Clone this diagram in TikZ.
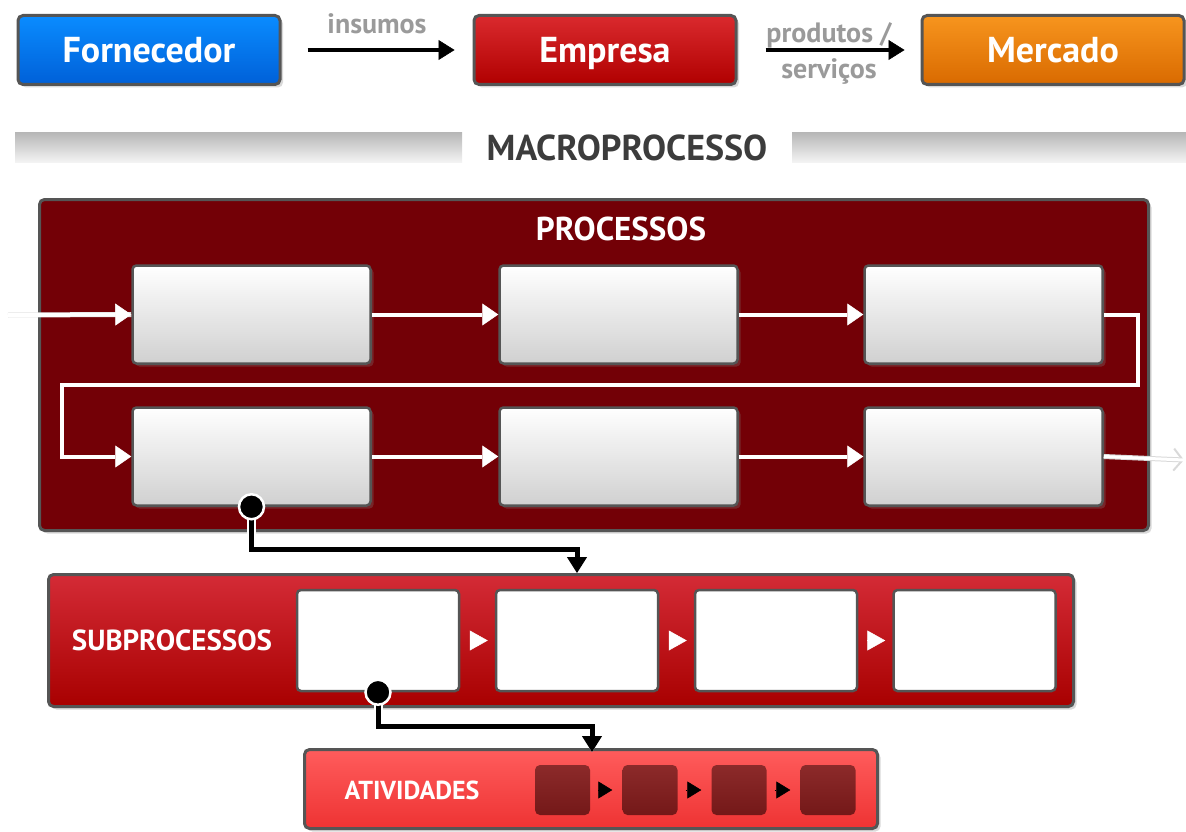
\documentclass[tikz,border=0pt]{standalone}
\usepackage{fontspec}
\setmainfont{PT Sans}
\usepackage{color}
\definecolor{myborder}{RGB}{85,85,85}
\definecolor{mybluetop}{RGB}{10,140,255}
\definecolor{mybluebot}{RGB}{0,96,216}
\definecolor{myredtop}{RGB}{218,42,46}
\definecolor{myredbot}{RGB}{176,0,0}
\definecolor{myorangetop}{RGB}{247,149,30}
\definecolor{myorangebot}{RGB}{217,106,0}
\definecolor{mywine}{RGB}{115,0,6}
\definecolor{mysubtop}{RGB}{212,43,54}
\definecolor{mysubbot}{RGB}{168,0,0}
\definecolor{myacttop}{RGB}{255,92,92}
\definecolor{myactbot}{RGB}{238,51,51}
\definecolor{mysqtop}{RGB}{140,42,42}
\definecolor{mysqbot}{RGB}{116,24,24}
\definecolor{mylightgray}{RGB}{208,208,208}
\definecolor{mybar}{RGB}{184,184,184}
\definecolor{mylabel}{RGB}{154,154,154}
\definecolor{mymacro}{RGB}{60,60,60}
\usepackage{tikz}
\usetikzlibrary{arrows.meta,shadows,positioning,calc}
\tikzstyle{myshadow}=[drop shadow={shadow xshift=3pt,shadow yshift=-3pt,opacity=.3}]
\tikzstyle{topbox}=[draw=myborder,line width=3pt,rounded corners=5pt,minimum width=262pt,minimum height=69pt,inner sep=0pt,text height=26pt,text depth=0pt,text=white,font=\bfseries\fontsize{36}{36}\selectfont,myshadow]
\tikzstyle{procbox}=[draw=myborder,line width=2.5pt,rounded corners=4pt,top color=white,bottom color=mylightgray,minimum width=238pt,minimum height=98pt,myshadow]
\tikzstyle{subbox}=[draw=myborder,line width=2.5pt,rounded corners=4pt,fill=white,minimum width=162pt,minimum height=101pt]
\tikzstyle{actbox}=[rounded corners=5pt,top color=mysqtop,bottom color=mysqbot,minimum width=55pt,minimum height=50pt]
\tikzstyle{frame}=[draw=myborder,line width=3pt,rounded corners=5pt,inner sep=0pt,myshadow]
\tikzstyle{title}=[text=white,font=\bfseries\fontsize{#1}{#1}\selectfont,inner sep=0pt]
\tikzstyle{flowlabel}=[text=mylabel,font=\bfseries\fontsize{28}{28}\selectfont,inner sep=0pt]
\tikzstyle{flow}=[black,line width=4pt,-{Triangle[width=20pt,length=16pt,line width=0.5pt]}]
\tikzstyle{wflow}=[white,line width=4pt,-{Triangle[width=22pt,length=16pt,line width=0.5pt]}]
\tikzstyle{link}=[black,line width=5pt,-{Triangle[width=20pt,length=16pt,line width=1pt]},preaction={draw=white,line width=9pt,-{Triangle[width=26pt,length=20pt,line width=1pt]}}]
\tikzstyle{dot}=[circle,fill=black,draw=white,line width=2.5pt,minimum width=25pt,minimum height=25pt,inner sep=0pt]
\tikzstyle{subtip}=[white,line width=0.5pt,-{Triangle[width=20pt,length=18pt,line width=0.5pt]},shorten <=10pt,shorten >=7pt]
\tikzstyle{acttip}=[black,line width=0.5pt,-{Triangle[width=17pt,length=14pt,line width=0.5pt]},shorten <=8pt,shorten >=10pt]

\begin{document}
\begin{tikzpicture}[x=1pt,y=-1pt]
\useasboundingbox (0,0) rectangle (1186,832);
% top row
\draw (149, 50) node [topbox, top color=mybluetop, bottom color=mybluebot] (forn) {Fornecedor};
\draw (605, 50) node [topbox, top color=myredtop, bottom color=myredbot] (emp) {Empresa};
\draw (1053, 50) node [topbox, top color=myorangetop, bottom color=myorangebot] (merc) {Mercado};
\draw[flow, shorten <=26pt, shorten >=18pt] (forn) -- (emp)
  node [flowlabel, midway, above=14pt] {insumos};
\draw[flow, shorten <=28pt, shorten >=16pt] (emp) -- (merc)
  node [flowlabel, midway, above=0pt] {produtos /}
  node [flowlabel, midway, below=7pt] {serviços};

% macroprocesso bar
\shade[top color=mybar, bottom color=white!96!black] (15,133) rectangle (462,163);
\shade[top color=mybar, bottom color=white!96!black] (792,133) rectangle (1186,163);
\draw (627, 148) node [text=mymacro, font=\bfseries\fontsize{36}{36}\selectfont, inner sep=0pt] (macro) {MACROPROCESSO};

% processos
\draw (594, 365) node [frame, fill=mywine, minimum width=1109pt, minimum height=331pt] (procs) {};
\draw (621, 229) node [title=33] (proclabel) {PROCESSOS};
\draw (251.5, 314.5) node [procbox] (p1) {};
\draw (618.5, 314.5) node [procbox] (p2) {};
\draw (983.5, 314.5) node [procbox] (p3) {};
\draw (251.5, 456.5) node [procbox] (p4) {};
\draw (618.5, 456.5) node [procbox] (p5) {};
\draw (983.5, 456.5) node [procbox] (p6) {};
\coordinate (in) at (8, 315);
\coordinate (out) at (1184, 460);
\coordinate (turnR) at (1138, 385);
\coordinate (turnL) at (62, 385);
\draw[black!12, line width=5pt] (in) -- (p1.west);
\draw[wflow] (in) -- (p1.west);
\draw[wflow] (p1) -- (p2);
\draw[wflow] (p2) -- (p3);
\draw[wflow, rounded corners=0pt] (p3.east) -| (turnR) -- (turnL) |- (p4.west);
\draw[wflow] (p4) -- (p5);
\draw[wflow] (p5) -- (p6);
\draw[black!15, line width=5pt, -{Straight Barb[width=22pt,length=9pt,line width=2pt]}] (p6.east) -- (out);
\draw[white, line width=3pt] (p6.east) -- (out);

% subprocessos
\draw (561, 640.5) node [frame, top color=mysubtop, bottom color=mysubbot, minimum width=1025pt, minimum height=132pt] (sub) {};
\draw (172, 640) node [title=29] (sublabel) {SUBPROCESSOS};
\draw (378, 640.5) node [subbox] (s1) {};
\draw (577, 640.5) node [subbox] (s2) {};
\draw (776, 640.5) node [subbox] (s3) {};
\draw (974.5, 640.5) node [subbox] (s4) {};
\draw[subtip] (s1) -- (s2);
\draw[subtip] (s2) -- (s3);
\draw[subtip] (s3) -- (s4);

% atividades
\draw (591, 789) node [frame, top color=myacttop, bottom color=myactbot, minimum width=573pt, minimum height=79pt] (act) {};
\draw (412, 790) node [title=26] (actlabel) {ATIVIDADES};
\draw (562.5, 790) node [actbox] (a1) {};
\draw (650, 790) node [actbox] (a2) {};
\draw (739, 790) node [actbox] (a3) {};
\draw (828, 790) node [actbox] (a4) {};
\draw[acttip] (a1) -- (a2);
\draw[acttip] (a2) -- (a3);
\draw[acttip] (a3) -- (a4);

% drill down links
\coordinate (tipA) at (592, 752);
\draw[link] (p4.south) -- ++(0, 43) -| (s2 |- sub.north);
\draw[link] (s1.south) -- ++(0, 34) -| (tipA);
\draw (p4.south) node [dot] (d1) {};
\draw (s1.south) node [dot] (d2) {};
\end{tikzpicture}
\end{document}
